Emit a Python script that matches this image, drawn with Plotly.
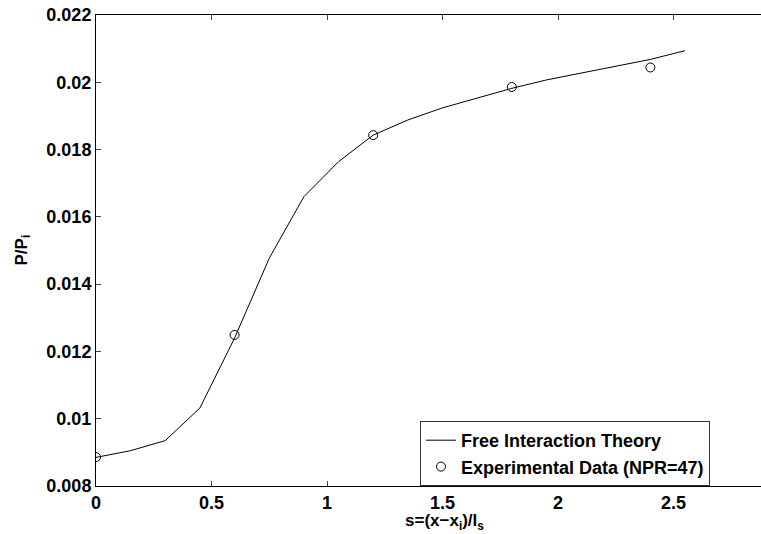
import plotly.graph_objects as go

# Theory curve
theory_s = [0, 0.15, 0.3, 0.45, 0.6, 0.75, 0.9, 1.05, 1.2, 1.35, 1.5, 1.65, 1.8, 1.95, 2.1, 2.25, 2.4, 2.55]
theory_p = [0.00885, 0.00905, 0.00935, 0.01032, 0.0124, 0.01477, 0.0166, 0.01764, 0.01843, 0.01888,
            0.01924, 0.01953, 0.01982, 0.02007, 0.02028, 0.02048, 0.02068, 0.02094]

# Experimental data
exp_s = [0, 0.6, 1.2, 1.8, 2.4]
exp_p = [0.00886, 0.01249, 0.01843, 0.01986, 0.02044]

xtick_vals = [0, 0.5, 1, 1.5, 2, 2.5]
xtick_text = ["0", "0.5", "1", "1.5", "2", "2.5"]
ytick_vals = [0.008, 0.010, 0.012, 0.014, 0.016, 0.018, 0.020, 0.022]
ytick_text = ["0.008", "0.01", "0.012", "0.014", "0.016", "0.018", "0.02", "0.022"]

FONT = "Arial, Liberation Sans, sans-serif"

def b(s):
    return "<b>" + s + "</b>"

fig = go.Figure()
fig.add_trace(go.Scatter(x=theory_s, y=theory_p, mode="lines",
                         line=dict(color="black", width=1),
                         name=b("Free Interaction Theory")))
fig.add_trace(go.Scatter(x=exp_s, y=exp_p, mode="markers",
                         marker=dict(symbol="circle-open", size=9, color="black",
                                     line=dict(width=1, color="black")),
                         name=b("Experimental Data (NPR=47)")))

W, H = 761, 534
L, T, B, R = 96, 15, 48, 0
px_per_unit = 231.0
xmax = (W - L - R) / px_per_unit

fig.update_layout(
    width=W, height=H,
    margin=dict(l=L, r=R, t=T, b=B),
    paper_bgcolor="white", plot_bgcolor="white",
    font=dict(family=FONT, color="black"),
    showlegend=True,
    legend=dict(x=(420 - L) / (W - L - R), y=0, xanchor="left", yanchor="bottom",
                bordercolor="#333", borderwidth=1, bgcolor="white",
                font=dict(size=18, family=FONT, color="black"),
                tracegroupgap=0, itemwidth=30),
)
fig.update_xaxes(range=[0, xmax], tickvals=xtick_vals, ticktext=[b(t) for t in xtick_text],
                 ticks="inside", ticklen=5, tickcolor="#444",
                 showline=True, linecolor="black", linewidth=1, mirror="ticks",
                 showgrid=False, zeroline=False,
                 tickfont=dict(size=18, family=FONT, color="black"))
fig.update_yaxes(range=[0.008, 0.022], tickvals=ytick_vals, ticktext=[b(t) for t in ytick_text],
                 ticks="inside", ticklen=5, tickcolor="#444",
                 showline=True, linecolor="black", linewidth=1, mirror=False,
                 showgrid=False, zeroline=False,
                 tickfont=dict(size=18, family=FONT, color="black"))

fig.add_annotation(text=b("s=(x−x<sub>i</sub>)/l<sub>s</sub>"), xref="paper", yref="paper",
                   x=(444 - L) / (W - L - R), y=-0.076, xanchor="center", yanchor="middle",
                   showarrow=False, font=dict(size=17, family=FONT, color="black"))
fig.add_annotation(text=b("P/P<sub>i</sub>"), xref="paper", yref="paper",
                   x=(22 - L) / (W - L - R), y=0.5, xanchor="center", yanchor="middle",
                   textangle=-90, showarrow=False,
                   font=dict(size=17, family=FONT, color="black"))

fig.write_html("out.html")
